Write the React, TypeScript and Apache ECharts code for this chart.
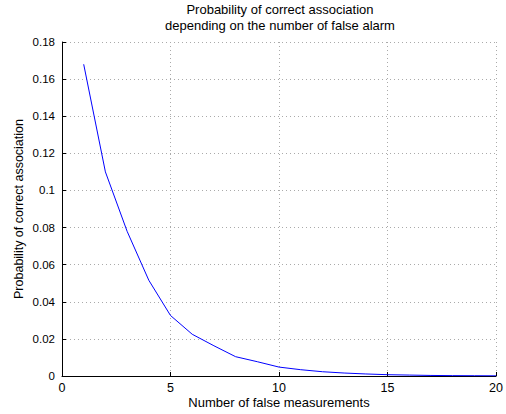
import React, { useEffect, useRef } from "react";
import * as echarts from "echarts";

const xValues = [1, 2, 3, 4, 5, 6, 7, 8, 9, 10, 11, 12, 13, 14, 15, 16, 17, 18, 19, 20];
const yValues = [0.168, 0.110, 0.078, 0.0516, 0.0326, 0.0225, 0.0163, 0.0104, 0.0077, 0.0048, 0.0034, 0.0023, 0.0016, 0.0011, 0.0007, 0.0005, 0.0003, 0.0002, 0.00015, 0.0001];
const titleLines = ["Probability of correct association", "depending on the number of false alarm"];
const xName = "Number of false measurements";
const yName = "Probability of correct association";

const FONT = "Liberation Sans";

export default function App() {
  const ref = useRef<HTMLDivElement>(null);
  useEffect(() => {
    if (!ref.current) return;
    const chart = echarts.init(ref.current, undefined, { renderer: "svg" });
    chart.setOption({
      animation: false,
      backgroundColor: "#ffffff",
      title: {
        text: titleLines.join("\n"),
        left: 280,
        textAlign: "center",
        top: 2,
        padding: 0,
        textStyle: { fontFamily: FONT, fontSize: 13, fontWeight: "normal", color: "#000", lineHeight: 15.5 },
      },
      grid: { left: 62, right: 9, top: 42, bottom: 37, containLabel: false },
      xAxis: {
        type: "value",
        min: 0,
        max: 20,
        interval: 5,
        name: xName,
        nameLocation: "middle",
        nameGap: 20,
        nameMoveOverlap: false,
        nameTextStyle: { fontFamily: FONT, fontSize: 13, color: "#000" },
        axisLine: { show: true, lineStyle: { color: "#000", width: 1 } },
        axisTick: { show: true, inside: true, length: 4, lineStyle: { color: "#000" } },
        axisLabel: { fontFamily: FONT, fontSize: 12.5, color: "#000", margin: 5 },
        splitLine: { show: true, lineStyle: { color: "#aaa", type: [1, 3], width: 1 } },
      },
      yAxis: {
        type: "value",
        min: 0,
        max: 0.18,
        interval: 0.02,
        name: yName,
        nameLocation: "middle",
        nameGap: 37,
        nameMoveOverlap: false,
        nameTextStyle: { fontFamily: FONT, fontSize: 12.5, color: "#000" },
        axisLine: { show: true, lineStyle: { color: "#000", width: 1 } },
        axisTick: { show: true, inside: true, length: 4, lineStyle: { color: "#000" } },
        axisLabel: { fontFamily: FONT, fontSize: 11.5, color: "#000", margin: 7 },
        splitLine: { show: true, lineStyle: { color: "#aaa", type: [1, 3], width: 1 } },
      },
      series: [
        {
          type: "line",
          data: xValues.map((x, i) => [x, yValues[i]]),
          showSymbol: false,
          symbol: "none",
          lineStyle: { color: "#0000ff", width: 1 },
          z: 5,
        },
      ],
    });
    return () => chart.dispose();
  }, []);
  return <div ref={ref} style={{ width: 506, height: 414, position: "absolute", left: 0, top: 0 }} />;
}
